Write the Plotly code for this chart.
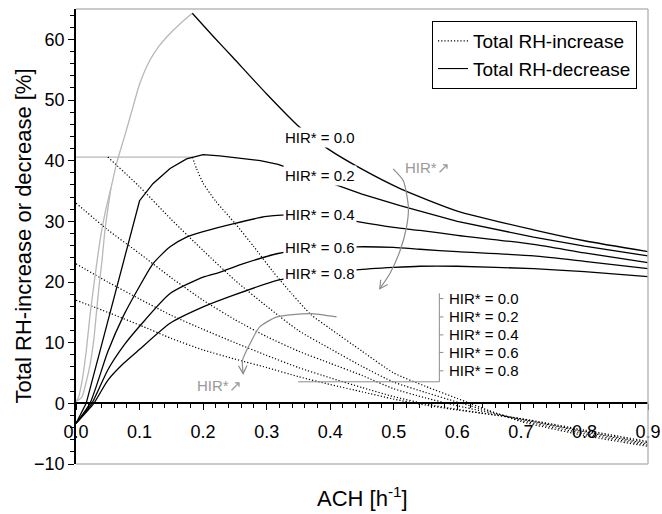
import math
import plotly.graph_objects as go

# ---------------- data ----------------
# Total RH-decrease, HIR* = 0.0 : grey rising part and black falling part
dec00_gray_x = [0, 0.004, 0.01, 0.016, 0.022, 0.03, 0.038, 0.046, 0.055, 0.065, 0.077, 0.09, 0.1, 0.116, 0.13, 0.142, 0.163, 0.183]
dec00_gray_y = [0.3, 1.0, 4.0, 8.5, 14.5, 21.0, 27.0, 31.5, 35.5, 40.0, 44.2, 49.0, 52.6, 56.5, 58.8, 60.3, 62.5, 64.3]
dec_gray2_x = [0, 0.009, 0.016, 0.0225, 0.028, 0.033, 0.037, 0.041, 0.045, 0.05, 0.055]
dec_gray2_y = [0.3, 1.0, 3.5, 6.6, 10.5, 15.9, 20.0, 23.6, 28.0, 32.0, 35.5]
dec00_x = [0.183, 0.215, 0.247, 0.3, 0.352, 0.397, 0.45, 0.51, 0.6, 0.72, 0.8, 0.9]
dec00_y = [64.3, 60.6, 57.0, 51.0, 45.5, 41.9, 38.6, 35.4, 31.7, 28.6, 26.8, 25.0]

dec02_x = [0, 0.016, 0.04, 0.06, 0.08, 0.1, 0.121, 0.148, 0.174, 0.2, 0.226, 0.26, 0.29, 0.318, 0.36, 0.407, 0.45, 0.51, 0.6, 0.72, 0.8, 0.9]
dec02_y = [-3.3, 0, 9.5, 17.5, 25.3, 33.4, 36.2, 38.7, 40.3, 41.0, 40.8, 40.4, 40.0, 39.4, 37.9, 36.1, 34.5, 32.6, 30.0, 27.4, 25.9, 24.3]

dec04_x = [0, 0.022, 0.05, 0.075, 0.1, 0.121, 0.148, 0.174, 0.2, 0.247, 0.3, 0.35, 0.4, 0.441, 0.5, 0.541, 0.6, 0.72, 0.8, 0.9]
dec04_y = [-3.3, 0, 8.5, 14.5, 19.3, 23.0, 25.8, 27.4, 28.3, 29.6, 30.8, 31.1, 30.8, 30.0, 29.0, 28.5, 27.7, 26.2, 24.8, 23.2]

dec06_x = [0, 0.025, 0.05, 0.075, 0.1, 0.148, 0.2, 0.226, 0.26, 0.318, 0.38, 0.441, 0.5, 0.541, 0.6, 0.72, 0.8, 0.9]
dec06_y = [-3.3, 0, 5.5, 9.5, 12.7, 18.1, 20.8, 21.6, 22.9, 24.7, 25.5, 25.8, 25.7, 25.4, 25.0, 24.3, 23.4, 22.2]

dec08_x = [0, 0.028, 0.05, 0.075, 0.1, 0.148, 0.2, 0.247, 0.318, 0.38, 0.441, 0.5, 0.541, 0.6, 0.72, 0.8, 0.9]
dec08_y = [-3.3, 0, 3.8, 6.6, 8.9, 13.2, 15.9, 17.8, 20.3, 21.3, 22.0, 22.4, 22.6, 22.6, 22.2, 21.7, 20.9]

# Total RH-increase (dotted)
inc_cap_x = [0, 0.183]
inc_cap_y = [40.6, 40.6]
incA_x = [0.183, 0.19, 0.2, 0.22, 0.25, 0.28, 0.31, 0.34, 0.37, 0.4, 0.45, 0.5, 0.55, 0.6, 0.65, 0.7, 0.8, 0.9]
incA_y = [40.6, 38.6, 36.3, 33.3, 29.7, 25.8, 21.7, 18.0, 14.6, 12.3, 8.6, 5.0, 2.8, 0.8, -1.2, -3.0, -5.3, -7.1]
incB_x = [0.05, 0.1, 0.15, 0.2, 0.25, 0.3, 0.35, 0.4, 0.45, 0.5, 0.55, 0.6, 0.65, 0.7, 0.8, 0.9]
incB_y = [40.6, 35.7, 30.3, 25.2, 20.3, 16.0, 12.0, 9.0, 6.1, 3.5, 1.8, 0.2, -1.3, -2.8, -5.0, -6.9]
incCDE_x = [0, 0.05, 0.1, 0.15, 0.2, 0.25, 0.3, 0.35, 0.4, 0.45, 0.5, 0.55, 0.6, 0.7, 0.8, 0.9]
incC_y = [33.0, 28.6, 24.7, 20.7, 17.0, 13.8, 11.0, 8.6, 6.6, 4.6, 2.4, 0.9, -0.4, -2.6, -4.7, -6.7]
incD_y = [23.0, 20.0, 17.2, 14.5, 12.2, 10.0, 7.9, 5.9, 4.2, 2.6, 1.1, -0.1, -1.0, -2.6, -4.6, -6.5]
incE_y = [17.0, 15.0, 12.9, 10.7, 8.8, 7.3, 5.9, 4.4, 3.1, 1.9, 0.7, -0.3, -1.1, -2.5, -4.4, -6.3]

# curve labels
hir_labels = ["HIR* = 0.0", "HIR* = 0.2", "HIR* = 0.4", "HIR* = 0.6", "HIR* = 0.8"]
dec_label_x = 0.325
dec_label_y = [43.85, 37.55, 31.1, 25.76, 21.4]
inc_label_x = 0.584
inc_label_y = [17.27, 14.24, 11.28, 8.39, 5.36]

# HIR* trend arrows
arrow_up_x = [0.499, 0.515, 0.523, 0.52, 0.51, 0.494, 0.478]
arrow_up_y = [38.65, 36.7, 32.3, 29.0, 25.2, 21.4, 18.9]
arrow_lo_x = [0.41, 0.368, 0.316, 0.289, 0.274, 0.262, 0.263]
arrow_lo_y = [14.25, 14.8, 14.25, 12.6, 9.87, 7.1, 4.9]

X_RANGE = [0, 0.9]
Y_RANGE = [-10, 65]

# ---------------- figure ----------------
W, H = 662, 514
ML, MR, MT, MB = 76, 14, 9, 50
PW, PH = W - ML - MR, H - MT - MB
SX = PW / (X_RANGE[1] - X_RANGE[0])
SY = PH / (Y_RANGE[1] - Y_RANGE[0])

BLACK = "#000000"
LGRAY = "#b8b8b8"
AGRAY = "#8c8c8c"
TGRAY = "#9a9a9a"
FONT = "Liberation Sans, Arial, sans-serif"

fig = go.Figure()

def line(x, y, color=BLACK, width=1.3, dash="solid", shape="linear"):
    fig.add_trace(go.Scatter(x=x, y=y, mode="lines", showlegend=False, hoverinfo="skip",
                             line=dict(color=color, width=width, dash=dash, shape=shape,
                                       smoothing=0.6)))

dotdash = "1.2px,2px"
# increase (dotted)
line(inc_cap_x, inc_cap_y, color=LGRAY, width=1.3)
line(incA_x, incA_y, width=1.2, dash=dotdash, shape="spline")
line(incB_x, incB_y, width=1.2, dash=dotdash, shape="spline")
line(incCDE_x, incC_y, width=1.2, dash=dotdash, shape="spline")
line(incCDE_x, incD_y, width=1.2, dash=dotdash, shape="spline")
line(incCDE_x, incE_y, width=1.2, dash=dotdash, shape="spline")

# decrease (solid)
line(dec00_gray_x, dec00_gray_y, color=LGRAY, width=1.3, shape="spline")
line(dec_gray2_x, dec_gray2_y, color=LGRAY, width=1.3, shape="spline")
line(dec00_x, dec00_y, shape="spline")
line(dec02_x, dec02_y)
line(dec04_x, dec04_y, shape="spline")
line(dec06_x, dec06_y, shape="spline")
line(dec08_x, dec08_y, shape="spline")

# trend arrows (grey curved)
line(arrow_up_x, arrow_up_y, color=AGRAY, width=1.2, shape="spline")
line(arrow_lo_x, arrow_lo_y, color=AGRAY, width=1.2, shape="spline")

shapes = []

def arrow_head(xs, ys, length=9, ang=28):
    xt, yt = xs[-1], ys[-1]
    xp, yp = xs[-2], ys[-2]
    dx = (xt - xp) * SX
    dy = -(yt - yp) * SY
    n = math.hypot(dx, dy)
    ux, uy = dx / n, dy / n
    pts = []
    for s in (1, -1):
        a = math.radians(ang * s)
        rx = (-ux) * math.cos(a) - (-uy) * math.sin(a)
        ry = (-ux) * math.sin(a) + (-uy) * math.cos(a)
        pts.append((xt + rx * length / SX, yt - ry * length / SY))
    path = f"M {pts[0][0]},{pts[0][1]} L {xt},{yt} L {pts[1][0]},{pts[1][1]}"
    shapes.append(dict(type="path", path=path, xref="x", yref="y",
                       line=dict(color=AGRAY, width=1.2)))

arrow_head(arrow_up_x, arrow_up_y)
arrow_head(arrow_lo_x, arrow_lo_y)

# bracket for increase labels
br_x0, br_x1 = 0.3496, 0.5717
br_y0, br_y1 = 3.55, 18.14
shapes.append(dict(type="line", xref="x", yref="y", x0=br_x0, x1=br_x1, y0=br_y0, y1=br_y0,
                   line=dict(color=AGRAY, width=1)))
shapes.append(dict(type="line", xref="x", yref="y", x0=br_x1, x1=br_x1, y0=br_y0, y1=br_y1,
                   line=dict(color=AGRAY, width=1)))
for yv in inc_label_y:
    shapes.append(dict(type="line", xref="x", yref="y", x0=br_x1, x1=br_x1 + 4 / SX, y0=yv, y1=yv,
                       line=dict(color=AGRAY, width=1)))

# grey frame (top, right, bottom)
for (x0, y0, x1, y1) in [(0, 1, 1, 1), (1, 0, 1, 1), (0, 0, 1, 0)]:
    shapes.append(dict(type="line", xref="paper", yref="paper", x0=x0, y0=y0, x1=x1, y1=y1,
                       line=dict(color=LGRAY, width=1.5)))

annotations = []
for lab, yv in zip(hir_labels, dec_label_y):
    annotations.append(dict(x=dec_label_x, y=yv, xref="x", yref="y", text=lab, showarrow=False,
                            xanchor="left", yanchor="middle", bgcolor="white", borderpad=1,
                            font=dict(size=15, color=BLACK, family=FONT)))
for lab, yv in zip(hir_labels, inc_label_y):
    annotations.append(dict(x=inc_label_x, y=yv, xref="x", yref="y", text=lab, showarrow=False,
                            xanchor="left", yanchor="middle",
                            font=dict(size=15, color=BLACK, family=FONT)))
annotations.append(dict(x=0.553, y=38.9, xref="x", yref="y", text="HIR*↗", showarrow=False,
                        font=dict(size=15, color=TGRAY, family=FONT)))
annotations.append(dict(x=0.225, y=3.0, xref="x", yref="y", text="HIR*↗", showarrow=False,
                        font=dict(size=15, color=TGRAY, family=FONT)))
# axis titles
annotations.append(dict(x=0.5, y=-(497 - (H - MB)) / PH, xref="paper", yref="paper",
                        text="ACH [h<sup>-1</sup>]", showarrow=False, yanchor="middle",
                        font=dict(size=22, color=BLACK, family=FONT)))
annotations.append(dict(x=-(ML - 23) / PW, y=0.5, xref="paper", yref="paper",
                        text="Total RH-increase or decrease [%]", showarrow=False, textangle=-90,
                        xanchor="center", yanchor="middle",
                        font=dict(size=22, color=BLACK, family=FONT)))

# legend entries
fig.add_trace(go.Scatter(x=[None], y=[None], mode="lines", name="Total RH-increase",
                         legendgroup="inc",
                         line=dict(color=BLACK, width=1.2, dash=dotdash)))
fig.add_trace(go.Scatter(x=[None], y=[None], mode="lines", name="Total RH-decrease",
                         legendgroup="dec",
                         line=dict(color=BLACK, width=1.1)))

fig.update_layout(
    width=W, height=H,
    margin=dict(l=ML, r=MR, t=MT, b=MB, autoexpand=False),
    paper_bgcolor="white", plot_bgcolor="white",
    font=dict(family=FONT, color=BLACK, size=18),
    showlegend=True,
    legend=dict(x=(432 - ML) / PW, y=(H - MB - 21) / PH, xanchor="left", yanchor="top",
                bordercolor=BLACK, borderwidth=1, bgcolor="white",
                font=dict(size=19, family=FONT), itemwidth=30, tracegroupgap=10,
                traceorder="normal"),
    xaxis=dict(range=X_RANGE, anchor="free", position=(0 - Y_RANGE[0]) / (Y_RANGE[1] - Y_RANGE[0]),
               automargin=False,
               showline=True, linecolor=BLACK, linewidth=1.5, showgrid=False, zeroline=False,
               ticks="outside", ticklen=6, tickwidth=1.3, tickcolor=BLACK, dtick=0.1, tick0=0,
               tickformat=".1f", ticklabelstandoff=6,
               tickfont=dict(size=18, family=FONT),
               minor=dict(dtick=0.02, ticks="outside", ticklen=4, tickcolor=BLACK, tickwidth=1.2)),
    yaxis=dict(range=Y_RANGE, automargin=False,
               showline=True, linecolor=BLACK, linewidth=1.5, showgrid=False,
               zeroline=False, ticks="outside", ticklen=6, tickwidth=1.3, tickcolor=BLACK,
               tickvals=[-10, 0, 10, 20, 30, 40, 50, 60],
               tickfont=dict(size=18, family=FONT),
               minor=dict(dtick=2, tick0=0, ticks="outside", ticklen=4, tickcolor=BLACK, tickwidth=1.2)),
    shapes=shapes,
    annotations=annotations,
)

fig.write_html("out.html", config={"displayModeBar": False},
               post_script="document.body.style.margin='0';document.body.style.padding='0';")
